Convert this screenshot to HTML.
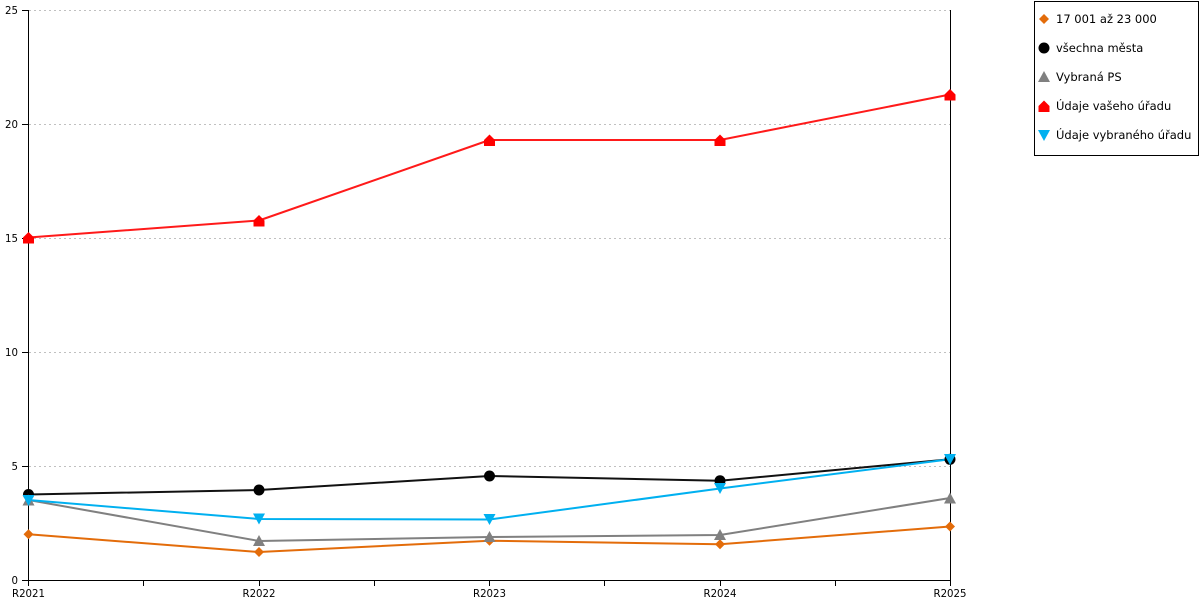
<!DOCTYPE html>
<html><head><meta charset="utf-8"><style>
html,body{margin:0;padding:0;background:#fff;}
svg{display:block;font-family:"DejaVu Sans","Liberation Sans",sans-serif;}
</style></head><body>
<svg width="1200" height="600" viewBox="0 0 1200 600" xmlns="http://www.w3.org/2000/svg">
<g stroke="#c0c0c0" stroke-width="1" stroke-dasharray="2,3">
<line x1="29" y1="10.5" x2="950" y2="10.5"/>
<line x1="29" y1="124.5" x2="950" y2="124.5"/>
<line x1="29" y1="238.5" x2="950" y2="238.5"/>
<line x1="29" y1="352.5" x2="950" y2="352.5"/>
<line x1="29" y1="466.5" x2="950" y2="466.5"/>
</g>
<g stroke="#000" stroke-width="1">
<line x1="28.5" y1="10" x2="28.5" y2="580"/>
<line x1="950.5" y1="10" x2="950.5" y2="580"/>
<line x1="28" y1="580.5" x2="951" y2="580.5"/>
<line x1="22" y1="10.5" x2="28" y2="10.5"/>
<line x1="22" y1="124.5" x2="28" y2="124.5"/>
<line x1="22" y1="238.5" x2="28" y2="238.5"/>
<line x1="22" y1="352.5" x2="28" y2="352.5"/>
<line x1="22" y1="466.5" x2="28" y2="466.5"/>
<line x1="22" y1="580.5" x2="28" y2="580.5"/>
<line x1="28.5" y1="580" x2="28.5" y2="586"/>
<line x1="143.5" y1="580" x2="143.5" y2="586"/>
<line x1="259.5" y1="580" x2="259.5" y2="586"/>
<line x1="374.5" y1="580" x2="374.5" y2="586"/>
<line x1="489.5" y1="580" x2="489.5" y2="586"/>
<line x1="604.5" y1="580" x2="604.5" y2="586"/>
<line x1="720.5" y1="580" x2="720.5" y2="586"/>
<line x1="835.5" y1="580" x2="835.5" y2="586"/>
<line x1="950.5" y1="580" x2="950.5" y2="586"/>
</g>
<g font-size="10.2" fill="#000" text-anchor="end">
<text x="18" y="14">25</text>
<text x="18" y="128">20</text>
<text x="18" y="242">15</text>
<text x="18" y="356">10</text>
<text x="18" y="470">5</text>
<text x="18" y="584">0</text>
</g>
<g font-size="10.2" fill="#000" text-anchor="middle">
<text x="28.5" y="597">R2021</text>
<text x="259" y="597">R2022</text>
<text x="489.5" y="597">R2023</text>
<text x="720" y="597">R2024</text>
<text x="950" y="597">R2025</text>
</g>
<g fill="none" stroke-width="2" stroke-linejoin="round">
<polyline stroke="#e36c0a" points="28.5,534.3 259,552 489.5,540.7 720,544.3 950,526.5"/>
<polyline stroke="#111" points="28.5,494.5 259,490 489.5,476 720,480.8 950,459.3"/>
<polyline stroke="#808080" points="28.5,500 259,541 489.5,537 720,535 950,498"/>
<polyline stroke="#ff1a1a" points="28.5,237.5 259,220.5 489.5,140 720,140 950,94.5"/>
<polyline stroke="#00b0f0" points="28.5,500 259,519 489.5,519.5 720,488.5 950,459.3"/>
</g>
<g fill="#e36c0a">
<path d="M28.5,529.3L33.5,534.3L28.5,539.3L23.5,534.3Z"/>
<path d="M259,547L264,552L259,557L254,552Z"/>
<path d="M489.5,535.7L494.5,540.7L489.5,545.7L484.5,540.7Z"/>
<path d="M720,539.3L725,544.3L720,549.3L715,544.3Z"/>
<path d="M950,521.5L955,526.5L950,531.5L945,526.5Z"/>
</g>
<g fill="#000">
<circle cx="28.5" cy="494.5" r="5.5"/>
<circle cx="259" cy="490" r="5.5"/>
<circle cx="489.5" cy="476" r="5.5"/>
<circle cx="720" cy="480.8" r="5.5"/>
<circle cx="950" cy="459.3" r="5.5"/>
</g>
<g fill="#808080">
<path d="M28.5,494.5L34.5,505.5L22.5,505.5Z"/>
<path d="M259,535L265,546L253,546Z"/>
<path d="M489.5,531L495.5,542L483.5,542Z"/>
<path d="M720,529L726,540L714,540Z"/>
<path d="M950,492.5L956,503.5L944,503.5Z"/>
</g>
<g fill="#ff0000">
<path d="M23,243.5L34,243.5L34,237.5L28.5,232L23,237.5Z"/>
<path d="M253.5,226.5L264.5,226.5L264.5,220.5L259,215L253.5,220.5Z"/>
<path d="M484,146L495,146L495,140L489.5,134.5L484,140Z"/>
<path d="M714.5,146L725.5,146L725.5,140L720,134.5L714.5,140Z"/>
<path d="M944.5,100.5L955.5,100.5L955.5,94.5L950,89L944.5,94.5Z"/>
</g>
<g fill="#00b0f0">
<path d="M22.5,495L34.5,495L28.5,506Z"/>
<path d="M253,513.5L265,513.5L259,524.5Z"/>
<path d="M483.5,514L495.5,514L489.5,525Z"/>
<path d="M714,483L726,483L720,494Z"/>
<path d="M944,454L956,454L950,465Z"/>
</g>
<rect x="1034.5" y="1.5" width="164" height="154" fill="#fff" stroke="#000" stroke-width="1"/>
<path d="M1044,14L1049,19L1044,24L1039,19Z" fill="#e36c0a"/>
<circle cx="1044" cy="48" r="5.5" fill="#000"/>
<path d="M1044,71L1050,82L1038,82Z" fill="#808080"/>
<path d="M1038.5,112L1049.5,112L1049.5,106L1044,100.5L1038.5,106Z" fill="#ff0000"/>
<path d="M1038,130L1050,130L1044,141Z" fill="#00b0f0"/>
<g font-size="11.5" fill="#000">
<text x="1056" y="23">17 001 až 23 000</text>
<text x="1056" y="52">všechna města</text>
<text x="1056" y="81">Vybraná PS</text>
<text x="1056" y="110">Údaje vašeho úřadu</text>
<text x="1056" y="139">Údaje vybraného úřadu</text>
</g>
</svg>
</body></html>
